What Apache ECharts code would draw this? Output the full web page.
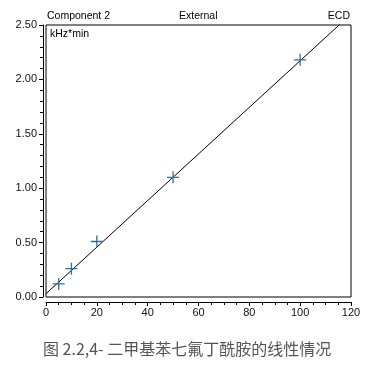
<!DOCTYPE html>
<html><head><meta charset="utf-8">
<script src="https://cdn.jsdelivr.net/npm/echarts@6/dist/echarts.min.js"></script>
<style>html,body{margin:0;padding:0;background:#fff}#c{width:383px;height:374px}</style>
</head><body><div id="c"></div>
<script>
// data
const concentrations = [5, 10, 20, 50, 100];
const responses = [0.12, 0.26, 0.51, 1.10, 2.18];
const fitX = [0, 120];
const fitY = [0.03, 2.60];
const headerTexts = ['Component 2', 'External', 'ECD'];
const unitText = 'kHz*min';
const captionText = '图 2.2,4- 二甲基苯七氟丁酰胺的线性情况';

const chart = echarts.init(document.getElementById('c'));
const font = 'Liberation Sans, Arial, sans-serif';
const plusPath = 'path://M0,6L12,6M6,0L6,12';
chart.setOption({
  animation: false,
  backgroundColor: '#fff',
  grid: {left: 46, right: 32, top: 25, bottom: 77, show: true, borderColor: '#000', borderWidth: 1, backgroundColor: 'transparent'},
  xAxis: {
    type: 'value', min: 0, max: 120, interval: 20, offset: 5,
    axisLine: {show: true, onZero: false, lineStyle: {color: '#000', width: 1}},
    axisTick: {show: true, length: 4, lineStyle: {color: '#000'}},
    minorTick: {show: true, splitNumber: 4, length: 3, lineStyle: {color: '#000'}},
    splitLine: {show: false},
    axisLabel: {color: '#111', fontSize: 11, fontFamily: font, margin: 5}
  },
  yAxis: {
    type: 'value', min: 0, max: 2.5, interval: 0.5, offset: 3,
    axisLine: {show: true, onZero: false, lineStyle: {color: '#000', width: 1}},
    axisTick: {show: true, length: 4, lineStyle: {color: '#000'}},
    minorTick: {show: true, splitNumber: 5, length: 3, lineStyle: {color: '#000'}},
    splitLine: {show: false},
    axisLabel: {color: '#111', fontSize: 11, fontFamily: font, margin: 6, formatter: v => v.toFixed(2)}
  },
  graphic: [
    {type: 'text', left: 47, top: 11, style: {text: headerTexts[0], font: '10.5px ' + font, fill: '#000'}},
    {type: 'text', left: 179, top: 11, style: {text: headerTexts[1], font: '10.5px ' + font, fill: '#000'}},
    {type: 'text', right: 33, top: 11, style: {text: headerTexts[2], font: '10.5px ' + font, fill: '#000'}},
    {type: 'text', left: 50, top: 29, style: {text: unitText, font: '10.5px ' + font, fill: '#000'}},
    {type: 'text', left: 43, top: 341, style: {text: captionText, font: '16px "Noto Sans CJK SC", sans-serif', fill: '#555'}}
  ],
  series: [
    {type: 'line', data: fitX.map((x, i) => [x, fitY[i]]), symbol: 'none', clip: true,
     lineStyle: {color: '#000', width: 1}, z: 2},
    {type: 'scatter', data: concentrations.map((x, i) => [x, responses[i]]), symbol: plusPath, symbolSize: 12,
     itemStyle: {color: 'transparent', borderColor: '#2f6ea8', borderWidth: 1.3, opacity: 1}, z: 3}
  ]
});
</script></body></html>
